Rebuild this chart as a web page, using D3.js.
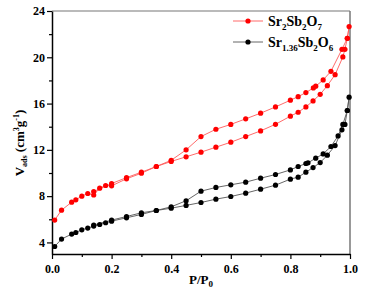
<!DOCTYPE html>
<html>
<head>
<meta charset="utf-8">
<script src="https://cdn.jsdelivr.net/npm/d3@7"></script>
<style>
  body { margin: 0; background: #fff; }
  svg { display: block; font-family: "Liberation Serif", "Times New Roman", serif; font-weight: bold; }
</style>
</head>
<body>
<svg id="chart"></svg>
<script>
// Sr2Sb2O7: adsorption branch then desorption branch
const redP = [0.009,0.032,0.066,0.080,0.10,0.12,0.14,0.16,0.18,0.20,0.25,0.30,0.35,0.40,0.45,0.50,0.55,0.60,0.65,0.70,0.75,0.80,0.826,0.852,0.876,0.90,0.924,0.95,0.976,0.983,0.991,0.997,
              0.991,0.973,0.936,0.91,0.885,0.877,0.852,0.826,0.80,0.75,0.70,0.65,0.60,0.55,0.50,0.45,0.40,0.35,0.30,0.25,0.20,0.14]
const redV = [5.93,6.79,7.48,7.68,8.0,8.23,8.1,8.69,8.92,8.89,9.5,9.98,10.56,11.0,11.4,11.8,12.23,12.66,13.15,13.64,14.21,14.91,15.25,15.71,16.23,16.8,17.55,18.5,20.03,20.69,21.64,22.65,
              21.64,20.69,18.79,18.04,17.5,17.35,16.95,16.6,16.29,15.71,15.17,14.68,14.2,13.78,13.15,12.0,11.1,10.56,10.07,9.6,9.09,8.4]

// Sr1.36Sb2O6
const blackP = [0.009,0.032,0.066,0.080,0.10,0.12,0.14,0.16,0.18,0.20,0.25,0.30,0.35,0.40,0.45,0.50,0.55,0.60,0.65,0.70,0.75,0.80,0.826,0.852,0.876,0.90,0.924,0.95,0.973,0.983,0.991,0.997,
                0.991,0.976,0.96,0.936,0.91,0.885,0.859,0.852,0.826,0.80,0.75,0.70,0.65,0.60,0.55,0.50,0.45,0.40,0.35,0.30,0.25,0.20,0.14]
const blackV = [3.65,4.29,4.72,4.86,5.09,5.24,5.41,5.55,5.7,5.84,6.13,6.42,6.76,6.96,7.2,7.45,7.74,7.97,8.26,8.6,8.95,9.47,9.64,10.07,10.47,10.9,11.54,12.37,13.73,14.2,15.4,16.55,
                15.4,14.2,13.2,12.29,11.65,11.28,10.88,10.82,10.56,10.27,9.87,9.55,9.21,8.98,8.75,8.43,7.6,7.08,6.76,6.56,6.24,5.93,5.5]

const xTicks = [0, 0.2, 0.4, 0.6, 0.8, 1.0]
const yTicks = [4, 8, 12, 16, 20, 24]

const width = 377, height = 290
const margin = {top: 11, right: 27, bottom: 36, left: 52}
const w = width - margin.left - margin.right
const h = height - margin.top - margin.bottom

const svg = d3.select('#chart').attr('width', width).attr('height', height)
const g = svg.append('g').attr('transform', `translate(${margin.left},${margin.top})`)

const x = d3.scaleLinear().domain([0, 1]).range([0, w])
const y = d3.scaleLinear().domain([3, 24]).range([h, 0])

// frame top / right
g.append('line').attr('x1', 0).attr('x2', w).attr('y1', 0).attr('y2', 0)
    .attr('stroke', '#777').attr('stroke-width', 1.2)
g.append('line').attr('x1', w).attr('x2', w).attr('y1', 0).attr('y2', h)
    .attr('stroke', '#777').attr('stroke-width', 1.5)

// minor ticks
g.append('g').attr('transform', `translate(0,${h})`)
    .call(d3.axisBottom(x).tickValues([0.1, 0.3, 0.5, 0.7, 0.9]).tickSize(3).tickFormat(''))
    .call(a => a.select('.domain').remove())
g.append('g')
    .call(d3.axisLeft(y).tickValues([6, 10, 14, 18, 22]).tickSize(3).tickFormat(''))
    .call(a => a.select('.domain').remove())

const xAxis = g.append('g').attr('transform', `translate(0,${h})`)
    .call(d3.axisBottom(x).tickValues(xTicks).tickSize(5).tickSizeOuter(0).tickFormat(d3.format('.1f')))
const yAxis = g.append('g')
    .call(d3.axisLeft(y).tickValues(yTicks).tickSize(5).tickSizeOuter(0))

g.selectAll('.domain').attr('stroke', '#000').attr('stroke-width', 1.5)
g.selectAll('.tick line').attr('stroke', '#000').attr('stroke-width', 1.2)
g.selectAll('.tick text').attr('font-family', '"Liberation Serif", serif')
    .attr('font-weight', 'bold').attr('font-size', 12).attr('fill', '#000')
xAxis.selectAll('.tick text').attr('dy', '0.95em')
yAxis.selectAll('.tick text').attr('x', -7)

// series
const series = [
    {name: 'red', P: redP, V: redV, line: '#ff5a5a', dot: '#ff0000'},
    {name: 'black', P: blackP, V: blackV, line: '#555', dot: '#000'}
]
const lineGen = d3.line().x(d => x(d[0])).y(d => y(d[1]))
series.forEach(s => {
    const pts = s.P.map((p, i) => [p, s.V[i]])
    g.append('path').datum(pts).attr('d', lineGen)
        .attr('fill', 'none').attr('stroke', s.line).attr('stroke-width', 0.9)
    g.selectAll(null).data(pts).enter().append('circle')
        .attr('cx', d => x(d[0])).attr('cy', d => y(d[1])).attr('r', 2.6)
        .attr('fill', s.dot)
})

// legend
const legend = [
    {y: 21, line: '#ff5a5a', dot: '#ff0000', parts: [['Sr',''],['2','sub'],['Sb',''],['2','sub'],['O',''],['7','sub']]},
    {y: 42, line: '#555', dot: '#000', parts: [['Sr',''],['1.36','sub'],['Sb',''],['2','sub'],['O',''],['6','sub']]}
]
legend.forEach(l => {
    svg.append('line').attr('x1', 233).attr('x2', 263).attr('y1', l.y).attr('y2', l.y)
        .attr('stroke', l.line).attr('stroke-width', 0.9)
    svg.append('circle').attr('cx', 248).attr('cy', l.y).attr('r', 2.6).attr('fill', l.dot)
    const t = svg.append('text').attr('x', 268).attr('y', l.y + 4.5).attr('font-size', 14).attr('fill', '#000')
    l.parts.forEach(([s, k]) => {
        const sp = t.append('tspan').text(s)
        if (k === 'sub') sp.attr('font-size', 9).attr('dy', 4)
        else sp.attr('dy', t.selectAll('tspan').size() > 1 ? -4 : 0)
    })
})

// axis titles
const xl = svg.append('text').attr('x', margin.left + w / 2).attr('y', 284)
    .attr('text-anchor', 'middle').attr('font-size', 13).attr('fill', '#000')
xl.append('tspan').text('P/P')
xl.append('tspan').text('0').attr('font-size', 9).attr('dy', 3)

const yl = svg.append('text').attr('transform', 'translate(24,143) rotate(-90)')
    .attr('text-anchor', 'middle').attr('font-size', 13).attr('fill', '#000')
yl.append('tspan').text('V')
yl.append('tspan').text('ads').attr('font-size', 8).attr('dy', 3)
yl.append('tspan').text(' (cm').attr('dy', -3)
yl.append('tspan').text('3').attr('font-size', 8).attr('dy', -5)
yl.append('tspan').text('g').attr('dy', 5)
yl.append('tspan').text('-1').attr('font-size', 8).attr('dy', -5)
yl.append('tspan').text(')').attr('dy', 5)
</script>
</body>
</html>
